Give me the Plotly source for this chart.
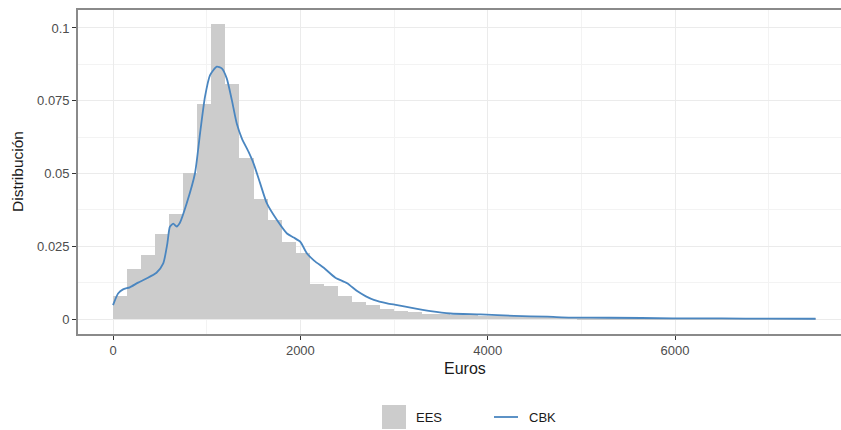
import plotly.graph_objects as go

# ---- data ----
bin_width = 150
bin_starts = [i * 150 for i in range(50)]  # 0 .. 7350
ees_share = [
    0.0079, 0.0171, 0.0220, 0.0291, 0.0360, 0.0501, 0.0739, 0.1014, 0.0806, 0.0552,
    0.0414, 0.0340, 0.0263, 0.0226, 0.0122, 0.0113, 0.0080, 0.0058, 0.0048, 0.0036,
    0.0029, 0.0023, 0.0019, 0.0016, 0.0014, 0.0013, 0.0012, 0.0011, 0.0010, 0.0009,
    0.0008, 0.00075, 0.0007, 0.00062, 0.00055, 0.0005, 0.00045, 0.0004, 0.00036, 0.00033,
    0.0003, 0.00027, 0.00024, 0.00022, 0.0002, 0.00018, 0.00016, 0.00014, 0.00012, 0.0001,
]

cbk_x = [0, 54, 107, 179, 268, 357, 464, 536, 580, 607, 643, 679, 714, 786, 875, 929,
         982, 1036, 1107, 1161, 1214, 1268, 1321, 1375, 1446, 1500, 1571, 1643, 1750,
         1857, 1929, 2000, 2071, 2150, 2250, 2374, 2500, 2606, 2700, 2784, 2927, 3034,
         3176, 3390, 3604, 3925, 4282, 4638, 4888, 5300, 5979, 6500, 7000, 7500]
cbk_y = [0.0048, 0.0088, 0.0102, 0.0109, 0.0125, 0.0139, 0.0159, 0.0191, 0.0260, 0.0317,
         0.0328, 0.0318, 0.0331, 0.0397, 0.0501, 0.0638, 0.0764, 0.0838, 0.0867, 0.0861,
         0.0827, 0.0753, 0.0672, 0.0621, 0.0575, 0.0535, 0.0466, 0.0397, 0.0340, 0.0294,
         0.0280, 0.0265, 0.0225, 0.0200, 0.0176, 0.0142, 0.0123, 0.0096, 0.0078, 0.0066,
         0.0054, 0.0048, 0.0039, 0.0027, 0.0019, 0.0016, 0.0011, 0.0008, 0.0005, 0.00045,
         0.00025, 0.0002, 0.00015, 0.0001]

x_ticks = [0, 2000, 4000, 6000]
x_tick_labels = ["0", "2000", "4000", "6000"]
y_ticks = [0, 0.025, 0.05, 0.075, 0.1]
y_tick_labels = ["0", "0.025", "0.05", "0.075", "0.1"]

bar_color = "#cccccc"
line_color = "#4a86c0"
font_family = "Liberation Sans, Arial, sans-serif"

fig = go.Figure()
fig.add_trace(go.Bar(
    x=[s + bin_width / 2 for s in bin_starts], y=ees_share, width=bin_width,
    marker=dict(color=bar_color, line=dict(width=0)), name="EES", showlegend=False,
))
fig.add_trace(go.Scatter(
    x=cbk_x, y=cbk_y, mode="lines", line=dict(color=line_color, width=1.8, shape="spline", smoothing=0.6),
    name="CBK", showlegend=False,
))

# custom legend (keys as paper shapes, labels as text)
L, R, T, B = 78, 841, 10, 334
W, H = 841, 430
def px(x):
    return (x - L) / (R - L)
def py(y):
    return (B - y) / (B - T)

fig.add_shape(type="rect", xref="paper", yref="paper", x0=px(382), x1=px(406), y0=py(429), y1=py(405),
              fillcolor=bar_color, line=dict(width=0))
fig.add_shape(type="line", xref="paper", yref="paper", x0=px(494), x1=px(518), y0=py(417), y1=py(417),
              line=dict(color=line_color, width=1.8))
fig.add_annotation(xref="paper", yref="paper", x=px(414), y=py(417), text="EES", showarrow=False,
                   xanchor="left", yanchor="middle", font=dict(size=13, color="#1a1a1a", family=font_family))
fig.add_annotation(xref="paper", yref="paper", x=px(527), y=py(417), text="CBK", showarrow=False,
                   xanchor="left", yanchor="middle", font=dict(size=13, color="#1a1a1a", family=font_family))
# axis titles
fig.add_annotation(xref="paper", yref="paper", x=px(465), y=py(368), text="Euros", showarrow=False,
                   xanchor="center", yanchor="middle", font=dict(size=16, color="#1a1a1a", family=font_family))
fig.add_annotation(xref="paper", yref="paper", x=px(17), y=py(172), text="Distribución", showarrow=False,
                   textangle=-90, xanchor="center", yanchor="middle",
                   font=dict(size=15.5, color="#1a1a1a", family=font_family))

fig.update_layout(
    width=W, height=H,
    margin=dict(l=L, r=W - R, t=T, b=H - B),
    paper_bgcolor="white", plot_bgcolor="white",
    bargap=0,
    font=dict(family=font_family),
)
fig.update_xaxes(
    range=[-374, 7772], tickvals=x_ticks, ticktext=x_tick_labels,
    showgrid=True, gridcolor="#ebebeb", gridwidth=1,
    minor=dict(dtick=1000, tick0=1000, showgrid=True, gridcolor="#f3f3f3", gridwidth=1),
    showline=True, linecolor="#8a8a8a", linewidth=1.6, mirror=True,
    ticks="outside", ticklen=4, tickcolor="#333333", tickwidth=1,
    tickfont=dict(size=13, color="#4d4d4d"), zeroline=False,
)
fig.update_yaxes(
    range=[-0.00514, 0.10617], tickvals=y_ticks, ticktext=y_tick_labels,
    showgrid=True, gridcolor="#ebebeb", gridwidth=1,
    minor=dict(dtick=0.0125, tick0=0.0125, showgrid=True, gridcolor="#f3f3f3", gridwidth=1),
    showline=True, linecolor="#8a8a8a", linewidth=1.6, mirror=False,
    ticks="outside", ticklen=4, tickcolor="#333333", tickwidth=1,
    tickfont=dict(size=13, color="#4d4d4d"), zeroline=False,
)

fig.write_html("out.html", config={"displayModeBar": False},
               post_script="document.body.style.margin='0px';")
